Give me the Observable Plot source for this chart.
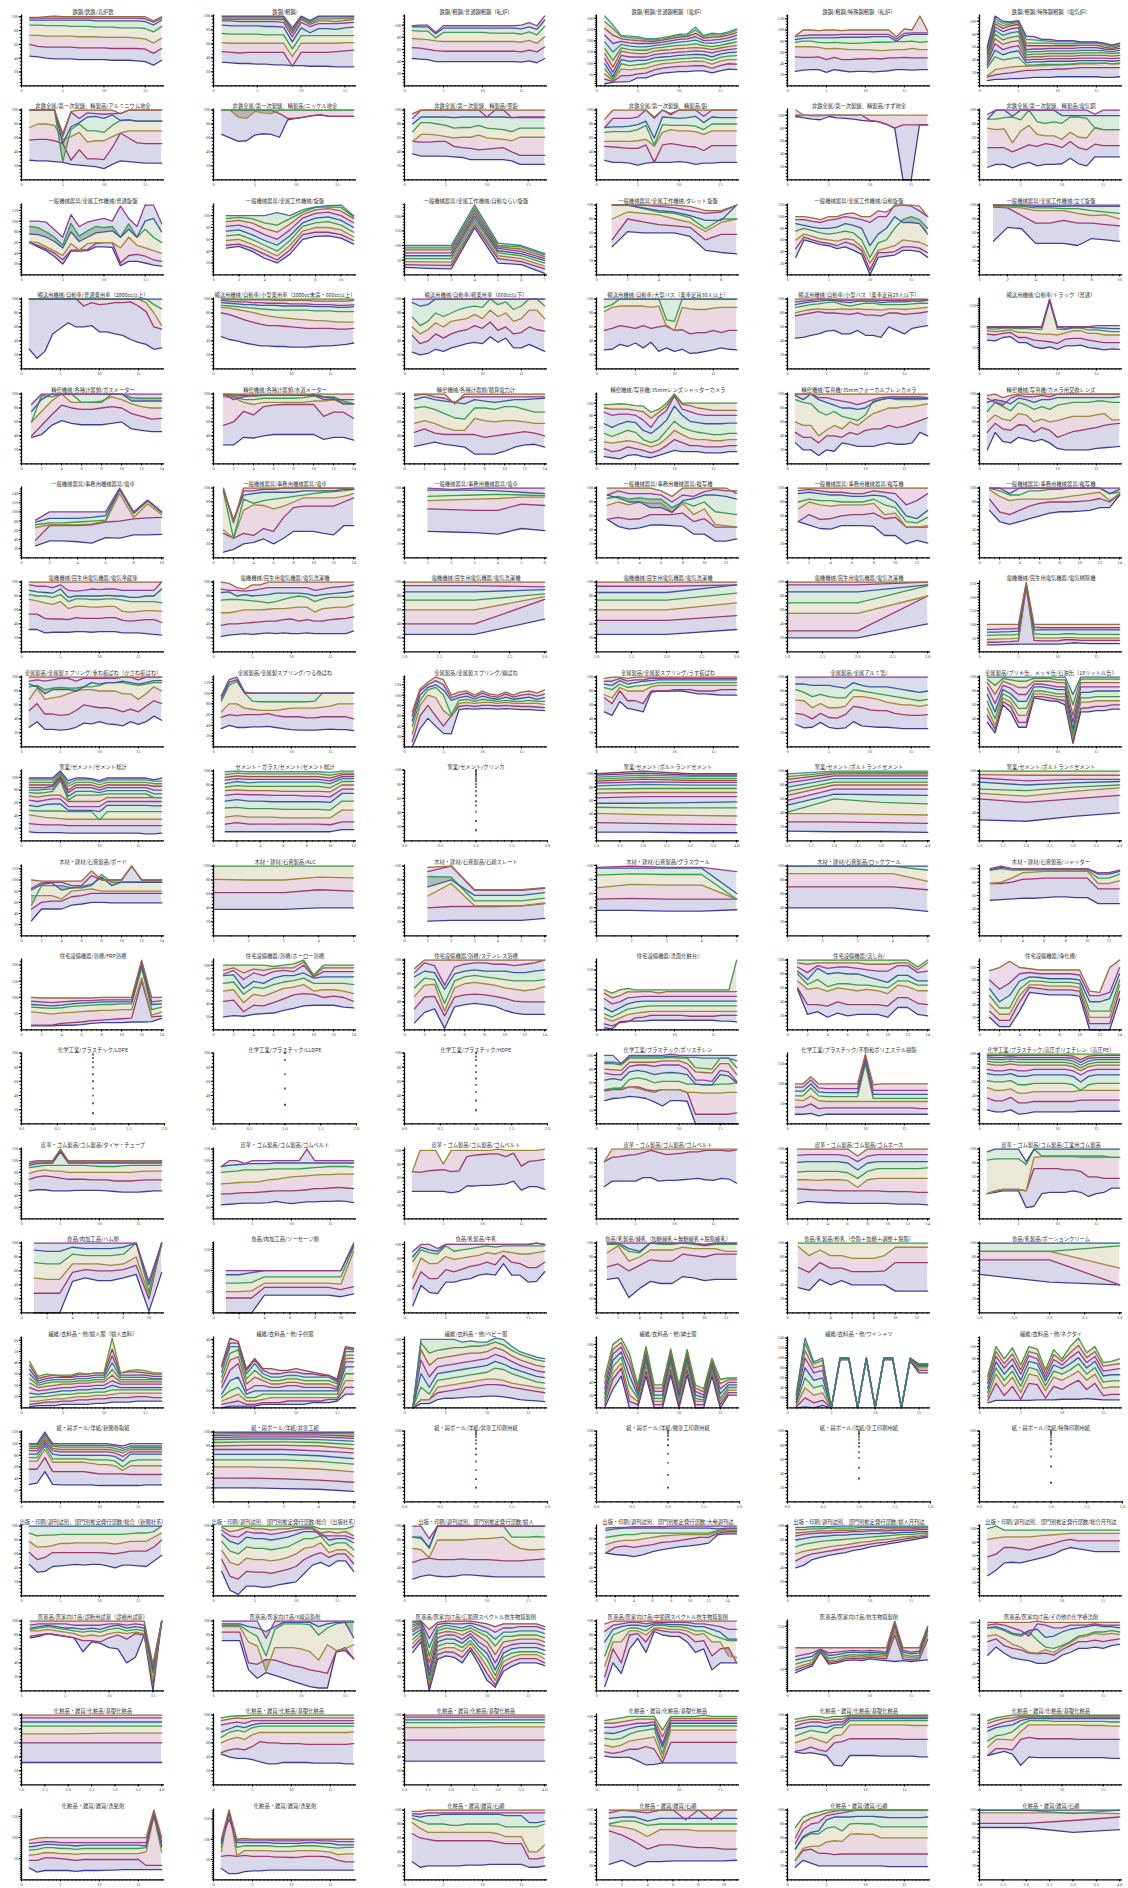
<!DOCTYPE html>
<html><head><meta charset="utf-8">
<script src="https://cdn.jsdelivr.net/npm/d3@7"></script>
<script src="https://cdn.jsdelivr.net/npm/@observablehq/plot@0.6"></script>
<style>
body{margin:0;background:#fff;width:1128px;height:1888px;position:relative;overflow:hidden}
.cell{position:absolute;width:170px;height:95px}
.cell svg{overflow:visible;max-width:none!important}
</style></head><body>
<script>
const titles = [
"鉄鋼/銑鉄/高炉銑","鉄鋼/粗鋼/","鉄鋼/粗鋼/普通鋼粗鋼（転炉）","鉄鋼/粗鋼/普通鋼粗鋼（電炉）","鉄鋼/粗鋼/特殊鋼粗鋼（転炉）","鉄鋼/粗鋼/特殊鋼粗鋼（電気炉）",
"非鉄金属/第一次製錬、精製品/アルミニウム地金","非鉄金属/第一次製錬、精製品/ニッケル地金","非鉄金属/第一次製錬、精製品/亜鉛","非鉄金属/第一次製錬、精製品/鉛","非鉄金属/第一次製錬、精製品/すず地金","非鉄金属/第一次製錬、精製品/電気銅",
"一般機械器具/金属工作機械/普通旋盤","一般機械器具/金属工作機械/旋盤","一般機械器具/金属工作機械/自動ならい旋盤","一般機械器具/金属工作機械/タレット旋盤","一般機械器具/金属工作機械/自動旋盤","一般機械器具/金属工作機械/立て旋盤",
"輸送用機械/自動車/普通乗用車（2000cc以上）","輸送用機械/自動車/小型乗用車（2000cc未満・660cc以上）","輸送用機械/自動車/軽乗用車（660cc以下）","輸送用機械/自動車/大型バス（乗車定員30人以上）","輸送用機械/自動車/小型バス（乗車定員29人以下）","輸送用機械/自動車/トラック（普通）",
"精密機械/各種計器類/ガスメーター","精密機械/各種計器類/水道メーター","精密機械/各種計器類/積算電力計","精密機械/写真機/35mmレンズシャッターカメラ","精密機械/写真機/35mmフォーカルプレンカメラ","精密機械/写真機/カメラ用交換レンズ",
"一般機械器具/事務用機械器具/電卓","一般機械器具/事務用機械器具/電卓","一般機械器具/事務用機械器具/電卓","一般機械器具/事務用機械器具/複写機","一般機械器具/事務用機械器具/複写機","一般機械器具/事務用機械器具/複写機",
"電機機械/民生用電気機器/電気冷蔵庫","電機機械/民生用電気機器/電気洗濯機","電機機械/民生用電気機器/電気洗濯機","電機機械/民生用電気機器/電気洗濯機","電機機械/民生用電気機器/電気洗濯機","電機機械/民生用電気機器/電気掃除機",
"金属製品/金属製スプリング/重ね板ばね（かさね板ばね）","金属製品/金属製スプリング/つる巻ばね","金属製品/金属製スプリング/線ばね","金属製品/金属製スプリング/うす板ばね","金属製品/金属アルミ箔/","金属製品/ブリキ缶、メッキ缶/石油缶（18リットル缶）",
"窯業/セメント/セメント総計","セメント・ガラス/セメント/セメント総計","窯業/セメント/クリンカ","窯業/セメント/ポルトランドセメント","窯業/セメント/ポルトランドセメント","窯業/セメント/ポルトランドセメント",
"木材・建材/石膏製品/ボード","木材・建材/石膏製品/ALC","木材・建材/石膏製品/石綿スレート","木材・建材/石膏製品/グラスウール","木材・建材/石膏製品/ロックウール","木材・建材/石膏製品/シャッター",
"住宅設備機器/浴槽/FRP浴槽","住宅設備機器/浴槽/ホーロー浴槽","住宅設備機器/浴槽/ステンレス浴槽","住宅設備機器/洗面化粧台/","住宅設備機器/流し台/","住宅設備機器/浄化槽/",
"化学工業/プラスチック/LDPE","化学工業/プラスチック/LLDPE","化学工業/プラスチック/HDPE","化学工業/プラスチック/ポリスチレン","化学工業/プラスチック/不飽和ポリエステル樹脂","化学工業/プラスチック/高圧ポリエチレン（高圧PE）",
"皮革・ゴム製品/ゴム製品/タイヤ・チューブ","皮革・ゴム製品/ゴム製品/ゴムベルト","皮革・ゴム製品/ゴム製品/ゴムベルト","皮革・ゴム製品/ゴム製品/ゴムベルト","皮革・ゴム製品/ゴム製品/ゴムホース","皮革・ゴム製品/ゴム製品/工業用ゴム製品",
"食品/肉加工品/ハム類","食品/肉加工品/ソーセージ類","食品/乳製品/牛乳","食品/乳製品/練乳（加糖練乳＋無糖練乳＋脱脂練乳）","食品/乳製品/粉乳（全脂＋加糖＋調整＋脱脂）","食品/乳製品/ポーションクリーム",
"繊維/衣料品・他/婦人服（婦人衣料）","繊維/衣料品・他/子供服","繊維/衣料品・他/ベビー服","繊維/衣料品・他/紳士服","繊維/衣料品・他/ワイシャツ","繊維/衣料品・他/ネクタイ",
"紙・段ボール/洋紙/新聞巻取紙","紙・段ボール/洋紙/非塗工紙","紙・段ボール/洋紙/非塗工印刷用紙","紙・段ボール/洋紙/微塗工印刷用紙","紙・段ボール/洋紙/塗工印刷用紙","紙・段ボール/洋紙/特殊印刷用紙",
"出版・印刷/週刊誌別、部門別推定発行部数/総合（新聞社系）","出版・印刷/週刊誌別、部門別推定発行部数/総合（出版社系）","出版・印刷/週刊誌別、部門別推定発行部数/婦人","出版・印刷/週刊誌別、部門別推定発行部数/大衆週刊誌","出版・印刷/週刊誌別、部門別推定発行部数/婦人月刊誌","出版・印刷/週刊誌別、部門別推定発行部数/総合月刊誌",
"医薬品/医家向け品/診断用試薬（診療用試薬）","医薬品/医家向け品/X線造影剤","医薬品/医家向け品/広範囲スペクトル抗生物質製剤","医薬品/医家向け品/中範囲スペクトル抗生物質製剤","医薬品/医家向け品/抗生物質製剤","医薬品/医家向け品/その他の化学療法剤",
"化粧品・雑貨/化粧品/基礎化粧品","化粧品・雑貨/化粧品/基礎化粧品","化粧品・雑貨/化粧品/基礎化粧品","化粧品・雑貨/化粧品/基礎化粧品","化粧品・雑貨/化粧品/基礎化粧品","化粧品・雑貨/化粧品/基礎化粧品",
"化粧品・雑貨/雑貨/洗髪剤","化粧品・雑貨/雑貨/洗髪剤","化粧品・雑貨/雑貨/石鹸","化粧品・雑貨/雑貨/石鹸","化粧品・雑貨/雑貨/石鹸","化粧品・雑貨/雑貨/石鹸"
];

const r01 = [
[[43,42,40,39,39,39,38,38,38,38,37,37,37,36,35,30,37],[60,57,56,56,56,56,55,55,55,55,54,54,54,54,53,47,54],[73,73,72,72,72,72,71,71,71,70,70,70,70,69,68,62,69],[88,88,87,87,87,86,86,86,85,85,85,84,84,84,83,78,86],[95,95,95,95,95,95,95,95,94,94,94,94,94,94,93,88,95],[98,98,98,98,98,98,98,98,98,98,98,98,98,98,97,92,98],[99,99,100,101,100,100,100,100,100,100,100,100,100,100,100,94,100]],
[[34,33,32,32,31,31,30,30,29,29,28,28,28,27,27,27],[49,48,47,48,48,48,48,48,28,48,48,48,48,49,50,51],[62,61,61,61,61,61,61,61,42,61,61,61,61,61,62,62],[75,74,74,74,74,73,73,73,53,72,72,72,72,72,72,72],[87,86,86,86,86,85,85,84,63,83,76,82,82,81,83,84],[93,93,92,92,92,92,92,91,70,91,85,89,89,89,90,91],[95,95,95,95,95,95,95,95,75,95,88,93,93,92,94,95],[97,97,97,97,97,97,97,97,78,97,90,96,96,96,97,97],[99,99,99,99,99,99,99,99,80,99,92,99,99,99,99,99],[100,100,100,100,100,100,100,100,83,100,94,100,100,100,100,100]],
[[45,44,43,40,40,40,40,40,40,40,40,40,40,40,39,41,38,45],[63,62,60,58,57,57,57,57,57,57,57,57,57,57,56,59,56,64],[78,77,76,74,73,73,73,73,73,73,73,73,73,73,72,75,70,81],[91,90,90,79,88,88,88,88,88,88,87,87,87,87,85,89,84,98],[97,97,97,86,95,95,95,95,95,95,95,95,95,95,94,97,93,108],[99,100,100,88,99,99,99,99,99,99,99,99,99,99,100,104,99,115]],
[[8,16,17,19,35,35,49,56,60,63,63,66,66,57,66,74,72],[30,19,45,45,53,56,71,79,83,86,87,90,89,78,90,98,96],[53,23,75,71,75,79,90,98,101,105,107,110,108,96,110,116,116],[75,30,98,90,94,98,109,113,116,120,122,125,123,113,126,132,134],[98,41,116,109,113,113,124,128,131,135,137,140,138,129,141,147,150],[120,60,135,128,128,128,139,143,146,150,152,155,153,146,155,161,165],[143,83,154,146,143,143,154,158,161,165,167,170,167,161,168,174,180],[165,113,169,161,158,158,167,171,176,180,182,186,179,174,180,188,195],[195,150,184,176,173,173,179,183,189,194,197,203,191,189,194,201,210],[225,188,197,191,188,188,189,194,200,206,209,218,201,203,206,213,224],[255,225,209,204,201,199,198,203,210,216,219,233,212,216,218,225,236],[285,255,218,214,210,206,204,209,216,224,225,248,219,227,225,234,246],[310,270,224,221,218,210,209,214,221,229,231,260,224,234,231,240,253]],
[[26,28,29,29,24,29,27,25,26,26,25,26,27,29,29,28,29,29],[52,51,51,52,47,51,47,47,48,48,49,48,50,50,51,50,50,50],[70,70,70,69,66,67,66,65,65,65,64,63,64,65,65,67,65,65],[78,80,80,78,77,78,77,76,76,77,78,78,78,79,79,80,78,79],[83,85,86,86,86,86,87,87,87,87,88,88,88,80,90,92,92,92],[89,90,91,91,91,91,92,92,92,92,92,92,92,84,94,95,95,95],[89,100,100,99,100,100,99,100,100,100,100,100,100,88,102,100,125,98]],
[[8,10,10,11,11,12,13,13,13,14,14,14,14,14,14,13,13,14],[14,17,19,20,22,24,24,25,25,26,26,27,28,28,28,28,28,28],[15,25,27,29,30,30,31,31,32,32,33,33,34,34,34,35,34,34],[28,45,40,42,44,32,32,33,33,33,33,34,35,35,35,35,34,35],[32,55,48,52,54,36,37,37,38,38,38,38,39,39,39,39,38,39],[36,65,56,60,62,40,41,41,42,42,42,42,43,43,43,43,42,43],[40,73,64,68,70,44,45,45,46,46,46,46,47,47,47,47,46,47],[44,80,71,75,77,48,49,49,50,50,50,50,51,51,51,51,50,51],[48,86,78,82,84,52,53,53,54,54,54,54,55,55,55,54,53,55],[51,91,84,88,90,56,57,57,58,58,58,58,59,59,59,57,56,58],[54,96,89,93,95,62,62,62,62,62,62,62,63,63,63,60,58,61],[56,100,93,96,98,66,66,66,66,65,65,65,66,66,66,63,60,63],[58,104,97,98,100,72,71,70,69,68,68,68,67,67,67,65,62,65],[60,108,100,99,101,77,76,72,72,70,70,70,68,68,68,66,63,66]]
];
const r02 = [
[[28,27,27,26,25,22,21,20,19,16,22,27,26,25,24,24,24],[57,58,58,56,52,28,43,30,30,29,46,67,60,53,52,52,52],[75,80,80,78,58,62,68,54,56,56,62,67,70,70,70,70,70],[100,100,100,100,26,72,80,70,70,68,78,85,86,84,84,84,84],[100,100,100,100,52,76,82,90,91,88,93,85,86,84,84,84,84],[100,100,100,100,62,97,88,96,95,94,95,95,100,100,100,100,100],[100,100,100,100,66,98,100,100,100,100,100,95,100,100,100,100,100]],
[[65,60,55,56,64,66,65,61,86,88,90,92,93,91,91,91,91],[100,100,100,100,100,100,100,95,88,88,90,92,93,91,91,91,91],[100,100,90,88,98,96,95,100,100,100,100,100,100,100,100,100,100],[100,100,100,100,100,100,100,100,100,100,100,100,100,100,100,100,100]],
[[37,34,34,34,34,33,32,29,29,29,29,29,27,22,22,22,22],[55,54,54,55,55,48,46,45,43,44,45,46,40,35,35,35,35],[55,65,65,64,62,60,61,61,64,60,59,58,56,61,61,61,61],[69,82,82,80,78,74,75,75,78,74,73,72,69,74,74,74,74],[80,90,90,90,90,89,90,90,90,90,90,90,89,89,89,89,89],[88,100,100,100,100,100,100,100,100,90,100,100,89,90,90,90,90],[95,100,100,100,100,100,100,100,100,100,100,100,100,100,100,100,100]],
[[28,25,25,24,21,24,25,25,25,26,25,22,24,24,25,25,25],[48,47,46,45,45,50,25,50,52,50,48,47,42,49,49,49,49],[55,55,55,55,56,58,48,68,72,70,70,69,65,70,70,70,70],[68,69,69,69,72,78,50,79,78,78,78,77,72,80,80,80,80],[75,76,76,77,79,84,60,90,89,88,89,91,82,90,89,89,89],[75,88,88,88,90,100,88,100,95,100,100,100,91,100,100,100,100],[87,100,100,100,100,100,90,100,93,100,100,100,100,100,100,100,100]],
[[98,96,94,93,98,96,95,94,92,91,90,86,80,0,0,85,85],[100,100,100,100,100,100,100,100,100,92,90,86,80,85,85,85,85],[108,100,99,99,100,100,100,100,100,100,100,100,100,100,100,100,100]],
[[18,22,22,17,22,25,20,22,22,23,31,23,20,33,33,33,33],[46,46,46,40,45,50,48,52,50,46,55,46,43,51,49,49,49],[74,72,73,53,70,78,65,63,63,58,68,61,60,75,72,72,72],[87,87,89,90,86,100,83,81,83,81,90,90,88,74,72,72,72],[87,100,100,91,100,100,100,100,100,92,92,92,92,92,92,92,92],[94,100,100,100,100,100,100,100,100,100,100,100,100,94,100,100,100]]
];
const r03 = [
[[60,52,45,34,20,44,44,45,52,52,51,17,25,25,22,18,16],[60,55,48,40,28,46,46,47,58,60,60,22,36,38,35,28,25],[62,60,52,44,36,58,46,58,60,60,60,50,70,55,50,45,40],[90,88,80,70,55,96,72,82,90,88,90,70,95,70,85,70,60],[76,75,70,62,50,80,62,70,78,80,82,70,85,70,100,105,80],[100,100,98,84,70,112,90,98,102,105,100,128,105,90,130,130,95]],
[[45,48,40,28,20,35,60,65,66,62,52],[50,52,45,35,25,42,68,72,72,68,58],[58,60,52,42,32,50,74,80,80,76,64],[66,68,60,50,40,58,82,88,90,84,72],[74,76,68,58,50,66,88,96,98,92,80],[82,84,78,68,60,76,96,104,106,100,88],[90,92,88,78,72,86,102,110,112,108,95],[95,97,95,88,84,95,106,114,115,114,98],[100,100,100,100,105,100,110,115,117,118,100]],
[[25,22,20,160,40,35,5],[35,33,32,170,55,45,20],[45,44,43,180,65,55,30],[55,55,55,190,75,65,40],[65,65,65,200,82,72,48],[75,75,75,210,90,80,55],[85,85,85,220,95,88,62],[92,92,92,228,100,95,68],[100,100,100,238,108,100,72]],
[[40,62,60,60,60,55,35,32,30],[50,80,76,72,70,68,50,58,58],[80,90,88,86,80,75,62,75,80],[100,100,95,90,88,82,66,80,80],[100,100,96,92,90,85,78,78,100],[100,100,100,98,96,92,88,90,100],[100,100,100,100,100,98,92,92,100]],
[[30,60,56,52,50,45,48,42,35,0,30,32,34,42,42,40,30],[45,65,60,56,54,50,56,52,42,8,38,38,40,48,48,46,38],[60,70,66,62,60,58,62,60,48,20,42,46,50,60,58,56,50],[75,80,76,72,70,72,75,72,60,30,55,60,80,95,100,95,80],[88,85,82,80,80,82,88,85,80,50,70,80,100,90,90,88,70],[95,95,92,90,94,96,100,98,95,90,100,100,120,120,118,110,100],[100,100,98,95,100,100,105,106,100,100,110,108,118,120,120,118,100]],
[[48,68,66,45,45,45,42,52,50,48],[97,96,85,74,74,78,74,74,72,70],[98,97,96,92,92,92,88,85,86,80],[100,99,98,96,96,95,95,92,90,88],[100,100,100,98,98,98,99,98,98,98],[100,100,100,100,100,100,100,100,100,100]]
];
const r04 = [
[[28,15,25,50,58,66,60,60,62,53,53,50,48,42,38,35,28,30],[100,100,100,100,100,100,100,90,95,92,93,95,95,96,90,82,60,57],[100,100,100,100,100,100,100,100,100,100,100,100,100,100,100,95,80,62],[100,100,100,100,100,100,100,100,100,100,100,100,100,100,100,100,92,86],[100,100,100,100,100,100,100,100,100,100,100,100,100,100,100,100,100,100]],
[[46,42,40,37,35,33,33,32,32,31,31,31,32,33,33,34,35,37],[80,78,74,70,67,64,62,62,61,60,59,58,58,58,58,57,57,58],[88,87,85,83,81,78,76,74,73,72,71,70,69,69,68,67,67,67],[91,90,89,88,87,86,85,84,84,84,84,84,83,83,83,82,82,82],[95,94,93,92,92,91,91,91,90,90,90,90,89,89,89,88,88,89],[98,97,96,96,95,95,94,94,94,93,93,93,92,92,92,91,91,92],[100,100,99,99,99,99,99,98,98,98,98,98,97,97,97,97,97,98],[100,100,100,100,100,100,100,100,100,100,100,100,100,100,100,100,100,100]],
[[24,20,22,28,25,30,33,36,38,36,46,38,44,30,30,35,30,25],[48,36,40,50,44,50,54,56,62,58,67,55,60,50,52,60,56,54],[60,50,56,66,60,68,70,72,78,72,84,75,80,68,72,84,84,72],[74,62,68,80,75,80,85,88,90,88,100,92,96,85,90,100,100,90],[95,90,92,100,100,100,100,100,100,100,100,100,100,100,100,100,100,100],[100,100,100,100,100,100,100,100,100,100,100,100,100,100,100,100,100,100]],
[[27,28,35,32,37,30,38,25,30,25,28,22,23,25,27,30,28,27],[55,58,62,60,58,62,58,60,62,55,56,50,52,52,55,52,55,55],[82,88,90,90,90,90,88,90,60,55,88,86,85,85,87,88,88,88],[88,92,100,100,100,100,100,100,70,68,100,100,100,100,100,100,100,100],[100,100,100,100,100,100,100,100,100,100,100,100,100,100,100,100,100,100]],
[[44,45,48,50,54,55,50,50,55,48,48,45,60,55,50,58,60,62],[76,78,80,82,80,80,79,78,80,77,77,76,80,80,78,79,80,82],[80,83,85,86,85,85,86,85,86,85,85,84,86,86,85,86,87,88],[88,90,92,93,95,96,92,90,92,94,94,92,92,92,92,93,94,94],[92,94,96,97,98,98,96,95,97,97,97,95,96,96,96,97,97,98],[96,97,98,100,100,99,98,98,99,99,99,98,98,98,98,99,99,99],[100,100,100,100,100,100,100,100,100,100,100,100,100,100,100,100,100,100]],
[[68,66,74,76,62,62,52,48,52,46,54,54,56,50,48,45,47,46],[82,80,84,86,74,74,68,66,64,60,70,72,72,68,65,62,62,62],[90,88,90,92,86,86,84,82,82,80,85,90,90,84,84,80,80,80],[95,94,96,96,95,95,94,93,160,94,93,96,96,92,92,90,88,88],[98,98,98,98,98,98,98,98,162,98,96,98,98,98,97,96,95,95],[100,100,100,100,100,100,100,100,165,100,100,100,100,100,102,102,102,102]]
];
const r05 = [
[[38,42,55,62,58,56,56,56,58,60,50,48,46,46],[40,55,70,84,80,78,78,80,82,80,72,68,64,65],[60,75,90,100,88,88,88,90,96,92,86,82,80,80],[60,98,96,100,100,88,88,88,100,100,95,94,94,94],[75,92,100,100,100,100,100,100,100,100,90,90,90,90],[85,100,100,100,100,100,100,100,100,100,100,100,100,100]],
[[27,27,38,37,40,42,42,42,42,42,35,38,38,34],[55,60,75,70,82,84,85,85,85,85,68,74,74,65],[96,95,88,85,88,88,88,88,88,90,90,92,86,86],[98,97,92,92,94,94,94,94,95,97,96,96,90,86],[100,99,98,97,98,98,98,98,98,100,96,94,86,86],[100,92,96,98,98,98,98,98,98,98,92,92,92,92],[100,100,100,100,100,100,100,100,100,100,100,100,100,100]],
[[25,28,31,28,26,24,14,14,14,18,24,27,28,24],[45,50,44,42,42,42,42,38,40,42,44,46,44,40],[58,62,58,52,48,48,65,62,60,62,62,60,58,58],[80,82,78,72,66,64,80,80,78,82,82,78,74,74],[92,96,92,90,88,86,92,90,88,90,92,92,93,94],[98,100,96,94,88,96,96,96,96,96,96,96,96,96],[100,100,100,100,86,100,100,100,100,100,100,100,100,100]],
[[12,10,8,14,15,12,10,14,18,22,20,20,20,18,18,18,20,20],[25,20,22,28,25,22,18,22,30,40,35,30,30,28,28,28,30,30],[36,34,36,38,36,32,28,32,42,55,48,42,40,40,38,38,40,40],[50,45,50,55,52,40,35,40,55,70,60,55,52,50,48,48,50,50],[66,60,66,70,68,55,50,60,72,95,80,70,68,66,66,66,67,67],[85,80,82,82,80,72,60,78,88,112,90,86,82,80,80,80,80,80],[92,90,90,90,88,86,75,85,95,114,98,96,92,90,88,88,88,88],[97,98,99,98,96,95,85,90,100,115,100,100,100,100,100,100,100,100]],
[[30,20,20,12,20,18,30,28,25,25,25,28,30,28,28,30,45,40],[45,38,38,30,40,40,38,45,42,48,50,50,55,52,54,58,62,66],[60,55,55,40,48,55,50,60,55,64,72,76,80,80,82,82,84,86],[92,88,86,75,70,75,68,65,62,70,90,92,94,92,92,92,92,93],[98,92,100,92,88,84,80,80,78,80,88,92,94,94,94,94,94,93],[100,100,100,95,95,92,90,88,85,88,92,95,96,96,96,96,96,95],[100,100,100,100,100,100,100,100,100,100,100,100,100,100,100,100,100,100]],
[[20,45,32,30,38,35,32,35,30,22,20,20,20,20,22,23,24,25],[45,58,50,48,56,55,45,52,48,38,42,46,48,50,52,55,57,58],[60,70,64,62,72,70,60,64,60,62,65,68,68,68,70,72,63,63],[75,88,82,76,88,84,78,82,78,84,86,88,88,88,90,90,88,88],[88,92,90,86,94,92,88,92,92,95,95,95,95,95,95,95,95,96],[94,88,84,94,98,96,96,98,96,100,100,100,100,100,100,100,100,100],[98,100,95,98,100,100,100,100,100,100,100,100,100,100,100,100,100,100]]
];
const r06 = [
[[26,37,37,35,32,44,43,50,50,51],[38,70,70,70,72,78,80,85,87,88],[66,72,72,72,74,80,140,88,118,94],[72,76,76,78,80,82,148,96,124,98],[78,86,86,86,88,92,150,98,125,100],[82,100,100,100,100,100,152,100,126,100]],
[[8,12,20,22,27,20,28,38,38,38,35,33,46,46],[35,28,35,32,42,38,58,72,74,74,74,74,80,86],[40,28,68,76,75,70,74,80,86,86,86,86,88,92],[94,28,84,78,82,84,86,88,90,92,94,95,96,98],[96,55,90,92,94,94,94,94,96,96,96,96,98,98],[98,50,96,96,98,98,100,100,100,100,100,100,100,100],[100,52,100,100,100,100,100,100,100,100,100,100,100,100]],
[[38,37,36,34,42,39],[70,69,68,68,77,75],[82,83,84,85,87,87],[88,89,90,91,90,89],[97,97,97,96,94,92],[100,98,100,100,100,100]],
[[55,45,41,43,47,47,46,45,34,34,24,24,27],[55,58,55,56,62,62,62,64,52,56,44,44,44],[75,80,76,80,78,78,65,78,62,70,48,46,44],[85,88,84,86,84,84,72,80,74,80,66,64,62],[90,86,80,80,72,72,65,82,85,90,90,88,84],[90,96,92,92,92,90,80,90,88,95,98,96,96],[100,100,100,100,100,96,88,100,100,100,100,100,92]],
[[52,47,42,41,46,46,46,45,32,32,20,25,21],[52,62,55,56,60,62,62,64,56,58,44,44,44],[70,80,76,74,76,76,76,78,62,64,44,44,46],[80,84,82,82,80,80,80,84,76,72,52,50,58],[92,94,92,90,90,88,88,90,88,80,60,56,68],[96,98,96,94,94,92,92,96,94,92,76,82,92],[100,100,100,100,100,100,100,100,100,100,100,100,100]],
[[68,52,48,52,56,60,64,66,66,67,68,72,72,90],[84,66,62,68,74,78,80,80,80,81,82,85,80,91],[98,88,82,84,84,84,84,86,88,90,92,94,82,92],[100,96,90,90,96,96,98,98,100,100,100,100,92,94],[100,100,92,100,100,100,100,100,100,100,100,100,92,98],[100,100,100,100,100,100,100,100,100,100,100,100,100,100]]
];
const r07 = [
[[32,32,27,28,28,28,29,29,28,29,29,29,27,27,27,26,25,24],[54,54,48,47,47,46,49,48,48,48,49,49,45,44,45,46,46,42],[75,73,70,68,72,62,65,65,64,64,65,65,58,57,58,59,59,58],[82,80,80,78,82,72,76,76,75,75,76,76,74,72,72,72,72,70],[88,86,85,84,90,78,80,80,80,80,81,80,80,78,78,80,80,90],[96,94,94,92,96,88,87,88,90,89,90,90,88,88,88,88,88,100],[100,100,100,100,100,100,100,100,100,100,100,100,100,100,100,100,100,100]],
[[22,24,25,26,25,26,27,26,27,26,26,27,26,26,26,26,26,30],[38,40,40,41,42,43,44,44,46,47,44,46,44,44,46,47,48,50],[56,56,58,60,60,60,61,62,62,63,64,64,57,62,63,64,64,68],[74,75,75,74,73,72,70,72,75,78,80,78,72,76,78,78,78,80],[85,86,80,82,80,81,82,84,84,84,84,83,80,82,83,84,85,87],[90,88,88,87,88,90,92,92,92,92,92,92,88,90,92,93,94,96],[100,98,92,90,96,96,100,100,100,100,100,100,100,100,100,100,100,100]],
[[25,25,47],[40,40,75],[60,60,79],[74,74,83],[86,86,89],[95,95,93],[100,100,100]],
[[25,25,32],[45,45,52],[60,60,70],[74,74,84],[85,85,96],[94,94,96],[100,100,100]],
[[20,20,40],[30,30,80],[55,55,80],[70,70,95],[86,86,96],[96,96,100],[100,100,100]],
[[25,25,26,27,28,28,28,28,28,28,30,33,32,30,30,30,30,30],[35,35,36,37,40,236,42,40,40,40,44,44,42,42,42,42,42,42],[45,46,47,48,50,240,52,50,50,50,52,52,50,50,50,50,50,50],[60,61,62,62,64,242,66,64,64,64,66,66,64,64,64,64,64,64],[72,72,73,74,76,245,80,80,80,80,80,80,80,80,80,80,80,80],[82,82,84,84,86,248,90,88,88,88,88,88,88,88,88,88,88,88],[100,100,100,100,100,255,100,100,100,100,100,100,100,100,100,100,100,100]]
];
const r08 = [
[[28,36,25,25,24,25,28,34,33,36,33,32,30,36,32,36,44,38],[52,62,47,47,45,46,52,60,58,56,56,54,50,54,50,58,66,62],[68,84,68,70,72,76,80,82,82,80,80,80,76,76,68,76,86,80],[86,88,82,84,85,84,84,86,86,88,92,92,92,90,88,90,92,92],[90,86,76,82,82,82,80,86,92,90,92,92,94,92,90,92,95,95],[94,96,94,96,98,98,94,98,98,98,98,98,100,100,96,100,100,100],[100,100,100,100,100,100,100,100,100,100,100,100,100,100,100,100,100,100]],
[[34,40,36,36,37,37,38,36,34,32,31,31,31,32,33,32,32,30],[55,60,58,60,60,60,62,58,56,56,56,54,54,56,56,56,56,52],[65,80,80,72,70,68,68,68,70,72,72,72,72,74,76,80,80,80],[85,115,122,100,85,84,84,84,84,84,84,84,85,100,100,100,100,100],[90,120,125,100,100,100,100,100,100,100,100,100,100,100,100,100,100,100],[95,125,130,102,100,100,100,100,100,100,100,100,100,100,100,100,100,100]],
[[0,35,55,40,26,25,72,74,73,74,74,73,74,73,72,72,71,70],[10,60,80,60,40,60,78,80,78,80,80,79,80,79,78,78,77,76],[25,80,100,95,70,58,84,86,84,86,86,84,86,84,84,84,84,82],[40,90,110,115,100,62,90,92,88,92,90,88,90,88,88,90,88,88],[50,100,115,120,110,90,95,98,92,98,94,92,96,92,94,96,92,95],[60,108,120,128,120,95,100,104,96,104,98,96,102,96,100,102,98,102],[68,112,125,135,130,100,106,108,100,108,102,100,106,100,106,108,104,110]],
[[50,45,65,55,53,50,78,80,80,80,80,78,76,76,75,74,74,74],[70,62,80,66,66,62,80,80,80,82,82,82,80,80,80,82,82,82],[75,70,85,80,80,80,86,88,88,88,88,88,88,88,88,88,88,88],[85,82,90,85,87,88,90,92,92,92,92,92,92,92,92,92,92,92],[90,88,95,90,92,94,95,96,96,96,96,96,96,96,96,96,96,96],[94,94,98,94,96,96,98,98,98,98,98,98,98,98,98,98,98,98],[98,100,100,98,100,100,100,100,100,100,100,100,100,100,100,100,100,100]],
[[32,27,28,35,28,26,27,36,30,29,28,28,27,26,26,26,26],[48,46,40,48,42,41,46,58,56,53,52,52,48,46,45,45,46],[67,66,56,62,56,56,58,72,72,70,68,64,62,60,60,58,60],[82,78,72,75,72,70,70,82,80,78,76,74,72,70,68,66,68],[90,90,88,88,88,86,84,92,88,86,86,86,84,82,80,78,80],[100,100,100,100,100,100,100,100,100,100,100,100,100,100,100,100,100]],
[[35,20,60,50,28,28,70,68,66,65,60,5,50,50,52,52,54,54],[45,25,65,58,35,35,72,72,70,68,66,8,55,56,58,58,60,60],[55,30,70,64,45,45,76,76,74,72,72,12,64,64,66,66,66,66],[65,40,76,70,55,55,80,80,78,76,76,18,70,70,72,72,72,72],[75,50,82,76,65,65,86,86,84,82,82,25,78,78,80,80,80,80],[85,62,88,84,75,75,90,90,88,86,86,35,86,86,86,86,86,86],[92,75,94,90,85,85,94,94,94,92,92,45,92,92,92,92,92,92],[97,88,98,96,94,94,98,98,98,96,96,60,97,97,97,97,97,97],[100,100,100,100,100,100,100,100,100,100,100,75,100,100,100,100,100,100]]
];
const r09 = [
[[14,13,13,13,13,12,12,12,12,12,12,12,12,12,12,11,11,12],[27,26,25,25,25,24,24,24,24,24,24,24,24,24,24,24,24,24],[41,39,37,36,35,34,34,34,34,34,34,34,34,34,34,34,34,34],[48,47,47,47,47,46,46,46,46,33,46,46,46,46,46,46,46,46],[56,54,57,58,58,48,48,48,48,46,56,56,56,56,56,56,55,55],[64,62,64,66,66,54,54,54,54,54,62,62,62,62,62,62,62,62],[71,69,71,72,72,62,62,62,62,62,68,68,68,68,68,68,68,68],[76,75,76,78,95,64,72,72,72,72,74,74,74,74,74,74,68,68],[80,80,81,82,98,70,78,78,78,76,79,79,79,79,79,79,74,74],[84,84,84,86,100,76,84,84,84,80,84,84,84,84,84,84,80,80],[88,88,88,88,103,80,88,88,88,84,88,88,88,88,88,88,86,86],[92,92,92,92,106,86,92,92,92,88,92,92,92,92,92,92,90,90],[96,96,96,96,108,90,96,96,96,92,96,96,96,96,96,96,94,94],[99,99,99,99,110,95,99,99,98,95,99,99,99,99,99,99,96,99]],
[[13,13,13,13,13,13,13,13,13,13,16,16],[24,26,24,24,24,24,24,24,24,23,27,27],[34,36,34,34,34,33,33,33,33,33,44,44],[47,48,46,46,46,45,45,45,45,44,57,57],[57,59,57,57,56,56,56,56,56,55,68,68],[65,67,66,66,65,65,65,64,64,63,74,74],[72,73,72,72,72,71,71,71,71,70,80,80],[77,79,78,78,78,78,78,78,78,76,85,85],[82,85,83,84,84,84,84,84,84,82,89,89],[87,89,88,88,88,88,88,88,88,86,92,92],[91,93,92,92,92,92,92,92,92,90,95,95],[95,97,96,96,96,96,96,96,96,94,97,97],[99,100,99,99,99,99,99,99,99,98,100,100]],
[[15],[28],[41],[50],[56],[64],[70],[76],[80],[84],[87],[90],[92],[94],[96],[97],[98],[99],[100]],
[[13,13,12,12],[27,26,25,24],[41,39,38,37],[50,49,49,49],[56,56,57,58],[64,66,66,66],[71,72,72,72],[77,78,78,78],[82,84,83,83],[86,88,87,87],[89,92,90,90],[92,95,93,93],[95,98,96,96],[98,101,98,98],[100,104,100,100]],
[[14,13,13,12],[27,27,26,25],[39,39,38,37],[41,60,55,53],[51,67,66,65],[58,74,74,74],[65,80,80,80],[71,84,84,84],[77,89,89,89],[83,93,93,93],[88,96,96,96],[92,98,98,98],[96,100,100,100]],
[[30,28,35,40],[60,55,60,65],[68,64,71,76],[74,72,77,80],[84,80,83,85],[90,86,88,88],[95,94,94,94],[100,100,100,100]]
];
const r10 = [
[[27,48,48,48,55,57,60,60,59,59,59,59,59,59],[48,60,62,62,70,72,76,76,76,76,76,76,76,76],[72,72,72,66,80,82,84,80,80,80,80,80,80,80],[55,90,90,90,86,86,90,110,96,96,96,96,96,96],[82,92,95,82,86,88,92,105,90,96,96,96,96,96],[85,95,96,96,90,90,108,100,100,100,125,100,100,100],[100,98,98,98,98,98,116,100,100,100,125,100,100,100]],
[[38,38,38,40,40],[62,62,62,66,64],[81,80,80,84,83],[100,100,100,100,100]],
[[21,22,22,22,22,25],[40,42,42,42,43,46],[57,75,43,43,43,47],[85,84,50,50,50,54],[70,80,58,58,58,62],[92,100,65,65,65,68],[98,100,66,66,66,69]],
[[36,36,35,35,37],[52,53,52,52,52],[68,73,72,72,52],[86,88,87,87,52],[96,96,96,96,60],[97,99,97,97,91]],
[[40,40,40,40,35],[70,70,70,70,66],[89,89,89,89,78],[100,100,100,100,94],[100,100,100,100,100]],
[[53,54,55,56,56,57,58,58,57,57,48,48,48],[78,78,80,84,85,86,86,86,86,86,70,70,70],[78,80,86,94,95,96,96,96,96,96,78,78,82],[98,100,98,98,98,98,98,98,98,98,86,86,92],[98,102,100,100,100,100,100,100,100,100,92,92,96],[100,104,100,100,100,100,100,100,100,100,94,94,98]]
];
const r11 = [
[[12,12,12,14,14,16,20,22,22,22,24,24,25,35],[14,14,14,20,22,24,28,30,32,34,36,150,40,42],[55,52,48,52,54,56,58,60,60,62,62,160,45,55],[70,68,66,68,72,74,76,78,78,80,80,190,62,70],[78,76,74,76,80,82,84,86,86,86,86,200,78,80],[88,86,84,86,88,90,90,92,92,92,92,210,86,90],[100,98,98,98,98,98,98,100,100,100,100,215,100,100]],
[[20,22,21,24,25,26,30,33,37,38,38,38,35,34],[44,46,28,38,37,42,48,54,56,55,50,52,50,44],[60,62,42,55,52,58,64,66,70,60,62,62,60,56],[72,74,55,66,64,70,74,76,80,72,72,72,72,70],[84,85,64,75,72,80,84,84,88,80,82,82,82,82],[86,92,78,88,84,90,92,90,100,82,90,90,90,90],[92,96,88,94,92,95,96,96,105,84,96,96,96,96],[100,100,100,100,100,98,100,102,108,85,100,100,100,100]],
[[10,25,30,2,33,36,38,36,34,28,24,22,22,22],[30,47,48,20,47,50,51,50,48,45,41,40,40,40],[48,64,65,27,60,66,68,66,64,60,58,56,58,62],[60,74,72,38,70,76,78,76,74,72,70,70,70,72],[76,84,82,58,80,84,86,84,84,84,82,82,84,86],[82,96,92,64,90,94,96,96,94,94,92,94,96,100],[88,100,100,100,100,100,100,100,100,100,100,100,100,100]],
[[5,2,20,22,22,22,24,24,24,24,24,24,24,24,24,22,22,20],[15,10,18,20,30,32,36,36,36,36,36,34,34,34,34,36,36,36],[30,22,30,38,42,44,46,46,46,46,46,46,46,46,46,46,46,46],[40,32,42,52,55,58,60,60,60,60,60,60,60,60,60,60,60,60],[55,45,55,65,70,72,72,72,72,72,72,72,72,72,72,72,72,72],[78,65,70,80,82,84,84,84,84,84,84,84,84,84,84,84,84,84],[92,80,86,95,95,96,96,92,96,96,96,96,96,96,96,96,96,96],[100,92,100,104,100,100,100,100,100,100,100,100,100,100,100,100,100,175]],
[[58,22,26,18,24,20,22,22,22,18,32,32,22,20],[60,36,36,34,40,36,36,36,36,34,46,46,38,36],[70,58,60,55,60,58,56,58,56,52,64,62,56,56],[80,65,72,62,66,66,64,64,62,60,70,70,64,64],[84,72,88,80,82,80,80,76,72,68,78,78,70,70],[90,82,92,88,90,90,88,86,84,84,92,92,82,84],[96,94,96,96,96,96,96,94,94,94,96,96,86,96],[100,100,100,100,100,100,100,100,100,100,100,100,90,100]],
[[20,5,5,30,60,58,56,56,56,54,0,0,0,50],[30,15,15,45,68,66,64,64,64,62,10,10,10,62],[42,25,25,55,72,72,70,70,70,68,20,20,20,72],[55,35,35,65,78,78,76,76,76,74,30,30,30,80],[66,45,55,78,85,84,82,82,82,80,45,45,50,90],[80,65,75,90,92,90,90,90,90,88,55,55,60,100],[95,100,110,100,98,96,96,96,96,96,62,60,100,112]]
];
const r12 = [
[[15],[29],[40],[50],[60],[70],[80],[87],[93],[98]],
[[27],[50],[70],[90],[100]],
[[19],[33],[45],[55],[64],[73],[82],[90],[95],[100]],
[[34,37,38,40,39,37,32,26,34,34,33,0,0,0,0,0,0],[48,50,50,54,54,50,48,50,50,50,46,14,14,14,14,14,16],[50,51,52,54,52,48,46,50,50,50,46,46,45,45,45,46,46],[50,52,52,65,67,65,60,62,62,62,58,58,57,57,58,58,60],[64,66,64,76,78,76,72,74,75,74,72,58,57,57,72,70,60],[74,72,72,84,86,86,84,86,86,86,80,64,64,62,78,76,62],[80,79,78,90,90,90,90,92,92,92,88,76,75,74,88,88,72],[88,88,86,96,96,96,96,96,97,96,96,82,81,80,96,96,82],[90,90,88,98,98,98,98,98,99,98,97,97,96,96,96,96,92],[100,100,88,100,100,100,100,100,102,100,100,100,100,100,100,100,100]],
[[24,24,26,20,24,24,24,24,24,24,24,24,24,24,24,24,24,24],[42,42,50,38,40,40,40,40,40,40,40,40,40,40,40,40,38,38],[60,58,70,58,56,56,56,56,56,56,56,56,56,56,56,56,56,56],[70,70,90,70,68,68,68,68,68,150,64,64,64,64,64,64,64,64],[82,82,100,80,78,78,78,78,78,160,74,74,74,74,74,74,74,74],[92,92,110,90,88,88,88,88,88,168,84,84,84,84,84,84,84,84],[100,100,118,100,100,100,100,100,100,175,98,100,100,100,100,100,100,100]],
[[20,17,17,20,14,15,17,17,17,17,17,17,18,18,18,18,18,18],[37,33,33,38,30,30,32,32,32,32,32,32,34,34,34,34,34,34],[52,48,48,50,44,44,46,46,46,46,46,46,48,48,48,48,48,48],[62,60,60,62,56,56,58,58,58,58,58,56,48,56,58,58,58,58],[72,70,70,72,68,68,70,70,70,70,70,68,60,68,70,70,70,70],[78,76,76,78,76,76,78,78,78,78,78,76,70,76,78,78,78,78],[86,84,84,86,84,84,84,84,84,84,84,82,76,82,84,84,84,84],[90,88,88,90,88,88,88,88,88,88,88,86,80,86,88,88,88,88],[93,92,92,93,92,92,92,92,92,92,92,90,84,90,92,92,92,92],[96,95,95,96,95,95,95,95,95,95,95,94,88,94,95,95,95,95],[98,98,98,98,98,98,98,98,98,98,98,97,92,97,98,98,98,98],[100,100,100,100,100,100,100,100,100,100,100,100,100,100,100,100,100,100]]
];
const r13 = [
[[48,50,50,48,48,48,49,49,49,49,48,47,46,46,46,47,48,48],[68,72,74,72,70,68,68,68,67,67,67,65,65,65,66,67,67,67],[78,82,84,82,82,80,80,80,80,80,80,80,80,80,81,82,82,82],[88,90,92,92,92,92,92,92,91,90,90,90,91,92,92,92,92,92],[92,95,96,96,115,96,96,96,96,96,96,96,96,96,96,96,96,96],[95,98,98,98,118,98,98,98,98,98,98,98,98,98,98,98,98,98],[98,100,100,100,120,100,100,100,100,100,100,100,100,100,100,100,100,100]],
[[24,25,26,27,27,27,28,30,28,26,28,29,29,30,30,31,30,28],[43,43,44,45,45,46,47,48,48,48,49,50,52,52,53,54,53,52],[60,61,62,63,63,64,67,68,70,72,73,74,75,76,76,77,77,77],[80,81,82,84,84,84,85,86,86,86,86,87,88,89,90,90,90,89],[90,92,93,94,95,95,95,96,96,96,96,96,96,96,96,96,96,96],[90,100,100,95,100,100,100,100,100,100,100,120,100,100,100,100,100,100]],
[[40,40,40,40,40,38,40,48,48,49,49,50,51,55,42,47,47,43],[69,68,70,71,72,69,70,91,93,94,95,95,91,96,77,84,85,87],[69,100,100,100,80,100,100,100,100,100,100,102,100,100,100,100,100,102]],
[[46,54,54,54,54,59,59,54,55,55,56,57,58,56,55,58,57,51],[82,88,89,91,92,95,98,95,92,93,94,96,96,98,98,98,97,99],[82,100,100,100,100,100,100,100,100,100,100,100,100,100,100,100,100,100]],
[[22,25,24,23,23,22,22,22,22,22,21,21,21,20],[43,42,41,41,40,40,40,40,40,39,39,39,38,38],[56,56,55,56,56,55,45,56,58,58,58,58,58,58],[67,68,68,68,68,66,58,68,72,72,72,72,72,73],[81,82,82,82,82,80,70,80,82,82,82,82,82,82],[91,92,92,92,92,90,82,90,92,92,92,92,92,92],[100,100,100,100,100,100,90,100,100,100,100,100,100,100]],
[[36,38,40,40,40,16,18,36,38,38,38,40,38,32,36,38,44,44],[36,40,42,42,42,40,72,72,72,72,70,70,68,60,60,58,58,58],[36,40,42,42,42,40,88,89,89,89,89,89,88,88,88,88,88,88],[84,86,86,86,86,78,100,90,90,90,90,90,90,90,90,90,88,88],[96,100,100,100,100,82,100,100,100,100,100,100,100,100,100,100,100,100]]
];
const r14 = [
[[0,0,0,45,50,46,46,50,55,2,58],[28,28,28,58,62,60,60,62,68,20,100],[50,48,48,70,70,70,68,70,80,25,100],[72,70,70,84,82,82,82,84,100,30,100],[90,88,88,94,92,92,92,94,100,40,100],[100,100,100,100,100,100,100,100,100,45,100]],
[[0,0,0,42,42,42,42,42,42,38,45],[35,35,35,60,60,60,60,60,60,55,62],[50,50,52,70,70,70,70,70,70,68,145],[70,70,72,85,85,85,85,85,85,85,155],[90,90,95,100,100,100,100,100,100,100,160],[100,100,100,100,100,100,100,100,100,100,165]],
[[10,40,30,28,45,45,48,50,55,57,55,72,55,55,45,46,60],[35,60,50,50,63,60,64,68,70,74,70,84,74,72,66,66,74],[52,80,72,72,82,78,80,82,84,88,86,90,88,86,86,88,90],[75,92,88,86,98,90,92,94,96,98,96,98,98,98,98,98,98],[82,96,92,90,100,100,100,100,100,100,100,100,100,100,100,102,100],[90,100,100,94,100,100,100,100,100,100,100,100,100,100,100,102,100]],
[[48,50,22,35,45,42,42,52,50,46,48,48,48],[66,70,60,68,76,74,74,84,82,80,84,84,84],[86,96,74,80,90,90,90,94,92,92,92,88,88],[98,98,88,86,100,98,98,100,98,96,98,98,98],[100,100,92,88,100,100,100,100,100,98,100,100,100],[100,100,100,100,100,100,100,100,100,97,100,100,100]],
[[36,32,48,40,46,40,40,40,40,31,31,31,31],[65,58,72,64,64,59,59,59,60,72,72,72,72],[95,82,90,82,82,78,78,78,82,94,94,94,94],[100,100,100,100,100,100,100,100,100,100,100,100,100]],
[[55,44,40],[76,76,40],[88,88,64],[88,88,96],[100,100,100]]
];
const r15 = [
[[1,2,2,2,3,3,3,3,4,4,5,5,5,6,6,6,6],[3,4,5,5,6,6,7,7,8,8,9,9,9,10,10,9,9],[6,6,7,8,8,9,10,10,11,11,12,13,13,13,13,13,13],[9,10,10,11,12,12,13,13,14,14,16,16,16,16,16,16,16],[13,12,13,14,15,15,16,16,17,17,20,18,18,18,18,18,18],[18,15,16,17,18,18,19,19,20,20,24,21,21,21,21,21,21],[22,18,19,20,21,21,22,22,23,23,29,23,23,23,23,23,23],[26,20,22,23,23,23,24,24,25,25,34,25,25,25,25,25,25],[30,22,24,25,25,25,26,26,27,27,40,27,27,27,27,26,26],[34,24,26,27,27,27,28,28,29,29,46,29,29,29,29,28,28],[38,26,28,29,28,28,30,30,31,31,52,31,32,32,31,30,30],[41,28,30,29,29,29,31,30,31,31,62,31,33,34,33,31,31]],
[[0,1,1,1,1,2,2,2,2,2,2,3,3,3,4,8,8],[2,3,4,2,2,3,3,3,4,4,4,4,4,5,5,12,12],[4,6,8,4,4,5,6,6,6,6,6,6,6,6,6,16,16],[6,10,12,6,6,8,8,8,8,8,8,8,8,8,8,20,20],[8,16,18,8,10,10,10,10,10,10,10,10,10,10,10,24,24],[12,22,26,10,13,13,12,12,13,13,12,12,12,12,11,27,27],[15,28,30,14,18,16,14,14,15,15,14,14,14,14,12,29,29],[18,32,34,17,22,18,16,16,17,17,16,16,16,16,14,31,31],[21,36,36,20,26,20,18,18,19,19,18,18,18,18,15,33,33],[24,38,38,22,28,22,20,20,21,21,20,20,19,19,16,35,34],[25,41,39,23,29,23,23,22,22,23,22,21,20,19,17,36,35]],
[[0,6,6,12,14,14,15,16,16,17,17,16,14,12,11,10,9],[0,12,12,22,24,26,28,30,32,34,34,33,30,28,26,24,22],[0,12,12,30,32,34,36,38,40,42,42,40,36,34,32,30,28],[0,30,20,40,42,44,46,48,50,52,58,56,50,46,42,38,36],[0,50,30,50,52,54,56,58,60,62,68,64,58,54,50,46,44],[0,70,45,60,62,64,66,68,70,72,78,74,68,62,58,54,52],[0,85,62,72,74,76,78,80,80,82,88,84,76,70,66,62,60],[0,95,80,84,86,88,88,90,90,92,96,92,84,78,74,70,68],[0,100,100,100,100,100,96,98,96,96,102,100,90,82,78,74,72]],
[[0,30,50,0,0,50,0,0,52,0,52,0,0,50,0,20,20],[5,45,62,10,5,58,5,5,60,5,60,5,5,56,5,24,24],[10,55,70,20,10,66,10,10,68,10,68,10,10,60,10,28,28],[15,65,80,35,15,74,15,15,74,15,74,15,12,64,15,32,32],[22,75,88,50,20,80,20,20,80,20,80,20,16,68,22,36,36],[30,85,96,65,26,86,26,26,85,26,85,26,20,72,30,40,40],[38,92,103,75,31,92,31,31,89,31,89,31,25,75,38,44,44],[48,100,110,85,36,97,36,36,93,36,92,36,30,78,45,47,47]],
[[0,2,0,5,0,96,96,0,96,0,96,96,0,94,70,70],[2,20,10,15,0,97,97,0,97,0,97,97,0,95,75,75],[5,40,25,30,0,98,98,0,98,0,98,98,0,96,80,80],[8,60,40,45,0,98,98,0,98,0,98,98,0,97,83,83],[12,80,55,60,0,99,99,0,99,0,99,99,0,98,85,85],[16,100,70,75,0,99,99,0,99,0,99,99,0,98,86,86],[20,115,80,85,0,100,100,0,100,0,100,100,0,99,87,87],[24,130,88,95,0,100,100,0,100,0,100,100,0,100,88,88],[28,140,92,100,0,100,100,0,100,0,100,100,0,100,88,88]],
[[8,12,12,12,12,12,13,13,13,14,14,14,15,14,13,13,13],[12,40,20,35,14,40,38,16,35,30,38,45,30,40,20,22,22],[18,55,35,50,25,55,52,28,50,45,52,60,45,55,32,34,34],[25,65,45,60,35,66,62,36,60,55,62,72,55,66,42,44,44],[32,75,55,70,45,76,72,44,70,64,72,82,65,76,52,54,54],[40,84,65,80,55,85,80,50,79,70,82,92,74,84,60,62,64],[46,92,72,88,62,92,88,56,87,76,90,102,82,92,68,70,72],[52,100,80,98,70,100,96,62,95,80,100,114,90,100,74,76,80]]
];
const r16 = [
[[30,32,52,30,29,29,29,29,29,28,28,28,28,28,28,29,29,29],[56,56,76,52,52,52,52,52,50,48,48,48,48,47,47,47,47,47],[70,70,90,68,68,68,68,68,66,64,64,62,54,62,62,62,62,62],[76,76,96,74,74,74,74,74,72,72,72,70,60,70,72,72,72,72],[82,82,100,82,80,80,80,80,80,80,80,78,70,82,82,82,82,82],[88,88,104,88,86,86,86,86,86,86,86,84,78,86,86,86,86,86],[92,92,108,92,90,90,90,90,90,90,90,88,84,90,90,90,90,90],[95,95,112,96,94,94,94,94,94,94,94,92,88,93,93,93,93,93],[98,98,116,98,97,97,97,97,97,97,97,96,92,96,96,96,96,96],[100,100,120,100,100,100,100,100,100,100,100,98,96,100,100,100,100,100]],
[[20,20,19,18,15],[34,34,33,31,28],[50,50,49,47,43],[60,60,60,58,54],[68,68,68,66,62],[75,75,75,73,70],[80,81,81,80,76],[85,86,86,85,82],[89,90,90,89,87],[92,93,93,93,91],[95,96,96,96,94],[97,98,98,98,97],[99,99,99,99,99],[100,100,100,100,100]],
[[20],[32],[45],[57],[67],[75],[82],[87],[92],[95],[97],[99],[100]],
[[20],[38],[55],[68],[80],[88],[93],[96],[98],[100]],
[[33],[48],[62],[70],[78],[83],[88],[92],[95],[97],[99],[100]],
[[27],[50],[64],[74],[82],[87],[91],[94],[96],[98],[100]]
];
const r17 = [
[[45,34,35,42,43,44,45,44,45,45,43,40,44,44,43,42,50,58],[62,52,55,62,62,62,62,62,62,62,61,60,62,64,64,64,70,80],[78,70,70,72,75,75,76,76,76,76,76,74,76,78,78,78,84,90],[90,86,87,87,88,88,88,88,88,88,88,88,88,89,90,90,92,100],[100,100,100,100,100,100,100,100,100,100,100,100,100,100,100,100,100,100]],
[[35,8,2,14,14,12,13,16,18,20,32,44,48,42,50,50,35],[52,28,24,35,34,34,32,35,38,42,52,58,62,55,60,60,46],[65,48,44,54,52,52,50,52,55,60,68,70,76,62,66,66,56],[78,64,60,70,68,68,66,68,70,76,82,82,86,72,76,76,66],[88,78,74,84,82,82,80,82,84,88,92,92,90,80,82,82,76],[94,86,84,92,90,90,88,90,92,94,96,96,86,86,86,86,82],[98,92,94,98,96,96,94,96,96,98,98,98,90,92,90,92,86],[100,100,100,100,100,100,100,100,100,100,100,100,96,96,96,96,100]],
[[24,28,30,28,27,28,30,30,29,28,27,27,27,27,27,27,27],[48,52,54,52,52,52,53,52,52,52,51,50,50,50,51,52,53],[68,66,55,80,80,80,80,81,82,82,83,84,74,68,66,66,67],[84,82,70,100,100,100,100,100,100,100,100,100,84,84,84,85,84],[84,84,68,100,100,100,100,100,100,100,100,100,100,100,100,100,100],[100,100,82,100,100,100,100,100,100,100,100,100,100,100,100,100,100]],
[[60,58,57,55,58,62,65,67,69,70,72,74,86,87,87],[60,68,70,68,70,72,75,76,78,80,82,82,88,90,90],[72,76,78,78,80,82,84,85,86,86,86,86,90,92,92],[82,84,86,86,88,88,88,88,88,88,88,88,92,94,94],[92,94,95,95,95,95,95,95,95,95,95,95,94,95,95],[95,96,96,97,97,97,97,98,98,98,98,98,98,98,98]],
[[40,44,52,55,58,60,62,65,67,70,72,74,76,78,80,82,84],[50,56,60,62,64,66,68,70,72,74,76,77,79,81,83,84,86],[60,64,66,68,70,72,73,75,77,78,80,81,82,84,85,86,88],[70,74,76,78,79,80,81,82,83,84,85,86,87,88,88,89,90],[80,82,84,85,86,87,87,88,88,89,89,90,90,91,91,92,92],[86,88,89,90,90,91,91,92,92,93,93,93,94,94,94,95,95],[90,91,92,93,93,94,94,94,95,95,95,96,96,96,96,97,97],[95,95,96,96,97,97,97,97,98,98,98,98,98,98,98,98,98],[98,98,99,99,99,100,100,100,100,100,100,100,100,100,100,100,100]],
[[30,38,49,50,49,52,55,58,62,68,72,70,68,66,66,66,66],[58,62,72,72,70,68,72,75,78,82,84,82,82,82,82,82,82],[84,86,88,88,88,88,89,90,91,92,93,93,93,93,93,93,93],[100,104,98,98,98,98,98,98,98,98,98,98,98,98,98,98,98]]
];
const r18 = [
[[76,78,82,80,78,76,56,70,68,62,60,40,48,80,0,100],[78,80,82,80,78,76,72,72,70,76,80,74,82,80,10,100],[86,86,88,86,84,82,78,80,78,82,84,82,84,82,15,100],[88,90,92,90,88,86,84,86,84,88,90,86,88,86,25,100],[90,92,94,92,90,90,88,90,88,92,94,90,92,90,30,100],[94,96,96,96,96,94,94,94,94,96,96,94,96,94,35,100],[100,100,100,100,100,100,100,100,100,100,100,100,100,100,38,100]],
[[72,72,72,30,18,26,22,18,14,10,6,4,4,56,58,46],[84,84,84,40,38,45,44,40,36,34,30,28,25,56,62,46],[92,92,92,70,64,28,62,62,62,60,56,44,66,58,60,66],[94,94,94,85,78,50,88,96,96,96,95,80,90,96,98,98],[96,96,96,92,90,85,92,98,98,98,98,92,96,98,98,76],[100,100,100,100,100,75,100,100,100,100,100,100,100,100,100,100]],
[[55,70,0,45,50,48,40,58,38,15,5,28,35,40,40,40,36],[62,75,5,52,56,55,48,62,45,25,8,35,42,46,46,46,40],[68,80,10,58,62,62,56,68,52,35,15,42,48,52,52,52,46],[74,84,15,64,68,68,62,72,58,45,22,48,54,56,56,56,52],[80,88,22,70,74,74,68,78,64,54,30,54,60,62,62,62,58],[85,92,30,76,80,80,74,82,70,62,40,62,66,68,68,68,64],[88,95,40,82,85,84,80,86,78,70,52,70,72,74,74,74,70],[92,97,50,86,90,88,86,90,84,78,64,78,78,80,80,80,76],[95,98,62,90,94,92,90,94,88,84,74,84,84,86,86,86,82],[98,100,75,95,97,96,96,97,94,90,84,90,90,92,92,92,88],[100,100,88,98,100,100,100,100,98,96,92,96,96,96,96,96,92]],
[[6,40,25,60,75,55,85,80,78,78,70,55,60,30,40,40,40],[20,60,40,80,82,70,88,86,84,84,80,70,72,50,60,62,40],[35,70,70,86,86,80,90,90,88,88,86,80,82,70,70,50,48],[50,80,85,90,90,86,94,94,92,92,90,86,86,80,76,72,72],[70,88,92,94,94,92,96,96,95,95,94,92,92,88,84,74,74],[85,94,96,98,98,96,98,98,98,98,98,96,96,94,92,88,88],[96,100,100,100,100,100,100,100,100,100,100,100,100,100,100,100,100]],
[[42,50,58,90,62,65,70,72,70,74,72,70,68,70,68,70,72],[48,55,62,92,66,68,74,76,74,78,76,74,130,74,72,74,120],[54,60,66,94,70,72,78,80,78,82,80,78,140,80,76,78,130],[62,68,72,95,75,78,82,84,82,86,84,82,150,84,80,82,138],[72,76,80,96,82,84,88,90,88,90,88,86,155,90,86,88,144],[80,84,88,97,88,90,92,94,92,94,92,90,158,94,90,92,148],[100,100,100,100,100,100,100,100,100,100,100,100,162,100,100,100,150]],
[[52,64,55,48,46,44,40,40,44,52,56,62,62,64,62,66,68],[72,76,66,62,60,55,54,55,52,60,66,72,72,74,72,74,76],[80,82,76,68,64,56,55,60,56,64,70,78,80,84,82,84,82],[92,92,88,82,80,86,74,64,62,66,72,80,82,86,86,88,86],[92,94,90,84,82,88,90,78,80,86,90,92,94,96,94,94,92],[96,98,96,92,88,80,98,96,92,92,96,96,96,98,96,96,96],[100,100,100,100,100,100,102,100,100,100,100,100,100,100,100,100,100]]
];
const r19 = [
[[32,32,32,32],[60,60,60,60],[73,73,74,74],[84,84,84,84],[90,90,90,90],[96,96,96,96],[100,100,100,100]],
[[44,40,38,38,36,33,30,30,32,32,32,32,31,31,31,31,30,30],[46,50,52,50,55,62,60,60,59,59,59,58,58,58,58,58,58,59],[60,65,68,65,72,75,75,75,75,75,75,75,75,75,75,75,75,76],[68,75,78,76,82,84,84,84,84,84,84,84,84,84,84,84,84,84],[76,80,84,82,86,88,88,88,88,88,88,88,88,88,88,88,88,88],[86,88,90,88,92,92,92,92,92,92,92,92,92,92,92,92,92,92],[92,94,96,95,96,96,96,96,96,96,96,96,96,96,96,96,96,96],[96,98,99,99,100,100,100,100,100,100,100,100,100,100,100,100,100,100]],
[[34,34,34,34],[64,64,64,64],[82,82,83,83],[89,89,89,89],[93,93,93,93],[97,97,97,97],[100,100,100,100]],
[[42,40,40,40,35,29,30,32,32,32,32,32,32,32,32,32,32],[48,46,48,52,52,56,52,32,62,62,62,62,62,62,62,62,62],[58,55,58,64,66,68,70,38,80,80,80,80,80,80,80,80,80],[68,66,68,74,78,80,82,45,86,86,86,86,86,86,86,86,86],[76,75,78,82,85,86,88,55,90,90,90,90,90,90,90,90,90],[84,84,86,88,90,90,92,60,94,94,94,94,94,94,94,94,94],[90,90,92,94,96,96,96,70,97,97,97,97,97,97,97,97,97],[94,96,98,100,100,100,100,80,100,100,100,100,102,100,100,100,100]],
[[47,45,46,44,42,28,27,42,42,42,42,41,41,41,41,41,40,40],[48,50,54,50,48,60,62,66,66,66,66,66,66,66,65,65,65,65],[60,64,68,64,60,70,72,86,86,86,86,86,86,86,86,85,85,85],[70,74,78,76,74,82,82,92,92,92,92,92,92,92,92,92,92,92],[80,82,84,84,82,86,86,95,95,95,95,95,95,95,95,95,95,95],[84,88,90,90,88,90,90,97,97,97,97,97,97,97,97,97,97,97],[90,92,94,94,92,94,94,99,99,99,99,99,99,99,99,99,99,99],[94,96,98,98,96,98,98,100,100,100,100,100,100,100,100,100,100,100]],
[[42,45,48,44,28,40,39,39,39,39,39,39,39,39,39,38,38],[42,52,52,50,65,68,66,66,66,66,66,65,65,65,65,65,65],[54,65,65,64,76,86,86,86,86,86,86,86,85,85,85,84,84],[63,70,72,76,86,92,92,92,91,91,91,91,91,91,91,90,90],[77,82,84,86,92,95,95,95,95,95,95,95,95,95,95,95,95],[82,86,90,92,96,97,97,97,97,97,97,97,97,97,97,97,97],[88,92,95,96,98,99,99,99,99,99,99,99,99,99,99,99,99],[92,96,98,100,100,100,100,98,100,100,100,100,100,100,100,100,100]]
];
const r20 = [
[[28,18,22,22,22,22,20,22,22,22,23,23,24,24,24,24,24,24],[46,46,52,52,50,48,46,48,48,48,48,48,48,48,48,34,34,34],[58,60,64,64,62,62,60,62,62,62,62,62,62,62,62,66,150,66],[70,72,76,76,74,74,72,74,74,74,74,74,74,74,74,76,155,78],[78,80,84,84,82,82,80,82,82,82,82,82,82,82,82,80,158,80],[86,88,90,90,88,88,88,88,88,88,88,88,88,88,88,88,160,90],[94,98,100,100,100,100,100,100,100,100,100,100,100,100,100,100,165,100]],
[[28,15,15,20,22,22,24,24,24,24,24,24,24,24,24,24,24,24],[58,60,58,60,58,58,58,56,56,55,56,58,58,58,55,48,44,44],[70,172,60,72,72,72,72,70,70,70,72,72,72,70,68,62,64,64],[80,170,80,84,84,84,84,82,82,82,84,84,84,82,80,78,80,80],[90,165,92,92,92,92,92,90,90,90,90,92,92,90,90,86,86,86],[96,150,98,98,98,98,98,96,96,96,96,98,98,96,96,94,94,94],[100,172,100,102,100,100,100,100,100,100,100,100,100,100,100,100,100,100]],
[[26,18,20,20,20,20,20,21,21,21,22,22,22,22,22,18,18,20],[66,60,58,56,56,56,56,56,56,56,56,54,52,52,52,30,30,32],[82,74,68,68,68,68,68,68,68,68,68,66,62,62,62,40,40,50],[88,84,80,80,80,78,78,80,80,80,80,80,76,76,76,76,76,80],[92,90,92,92,94,94,94,94,94,94,94,94,92,92,92,82,82,84],[95,94,96,96,96,96,96,96,96,96,96,96,96,96,96,96,96,96],[98,98,100,100,100,100,100,100,100,100,100,100,100,100,100,100,100,100]],
[[22,28,19,26,26,27,27,27,27,27,28],[70,64,55,44,50,50,48,46,46,44,44],[78,76,72,62,72,72,72,70,70,70,70],[80,84,84,78,80,80,80,80,80,80,80],[88,90,90,84,88,88,88,88,88,88,88],[96,100,98,96,100,100,86,100,86,100,100],[100,100,100,100,100,100,100,100,100,100,100]],
[[18,28,24,20,20,20,20,20,20,20,20,20,19,19,19,19,19,19],[28,42,44,38,38,36,37,37,37,37,37,37,37,37,37,37,37,37],[28,45,48,48,54,56,55,65,66,65,65,60,60,60,60,60,60,60],[44,60,66,66,74,76,70,80,81,80,80,76,76,76,76,76,76,76],[44,62,68,70,86,90,90,90,91,91,91,90,89,89,89,89,89,90],[52,72,80,82,92,94,96,98,100,100,100,100,100,100,100,100,100,100],[60,82,88,92,96,98,100,100,100,100,100,100,100,100,100,100,100,100],[75,90,95,97,100,100,100,100,100,100,100,100,100,100,100,100,100,100]],
[[75,75,68,72],[81,81,85,90],[96,96,96,95],[100,100,95,100],[100,100,100,100]]
];
const rows = [r01,r02,r03,r04,r05,r06,r07,r08,r09,r10,r11,r12,r13,r14,r15,r16,r17,r18,r19,r20];
// panels (row*6+col) whose x axis starts at 1 although they have more than 5 points
const axisFromOne = [14];

function hsv(h, s, v) {
  const i = Math.floor(h * 6), f = h * 6 - i;
  const p = v * (1 - s), q = v * (1 - f * s), t = v * (1 - (1 - f) * s);
  const m = [[v,t,p],[q,v,p],[p,v,t],[p,q,v],[t,p,v],[v,p,q]][i % 6];
  return d3.rgb(m[0] * 255, m[1] * 255, m[2] * 255).formatHex();
}
const palette = k => hsv((0.67 + 0.236068 * k) % 1, 0.6, 0.6);

const colW = 191.5, rowH = 94.4;
rows.forEach((row, r) => row.forEach((lines, c) => {
  const id = r * 6 + c;
  const n = d3.max(lines, l => l.length);
  const single = n === 1;
  const x0 = single ? 0 : (n <= 5 || axisFromOne.includes(id)) ? 1 : 0;
  const xHi = single ? 2 : n + (n - x0) * 0.02;
  const yHi = single ? 100 : d3.max(lines.flat()) * 1.015;
  const pts = lines.flatMap((l, k) => l.map((v, j) => ({x: j + 1, y: v, k})));
  const bands = [];
  for (let k = 0; k < lines.length - 1; k++)
    for (let j = 0; j < n; j++)
      if (lines[k][j] != null && lines[k + 1][j] != null)
        bands.push({x: j + 1, a: lines[k][j], b: lines[k + 1][j], k});
  const col = d => palette(d.k);
  const yMaj = d3.ticks(0, yHi, 5).filter(v => v > 0);
  const yMin = d3.ticks(0, yHi, 25);
  const xMaj = d3.ticks(x0, xHi, 5);
  const xMin = d3.ticks(x0, xHi, single ? 20 : Math.min(40, Math.round((xHi - x0) * 1.2) + 4));
  const fy = d3.tickFormat(0, yHi, 5), fx = d3.tickFormat(x0, xHi, 5);
  const marks = [];
  if (!single) {
    marks.push(Plot.areaY(bands, {x: "x", y1: "a", y2: "b", z: "k", fill: col, fillOpacity: 0.2, curve: "linear"}));
    marks.push(Plot.lineY(pts, {x: "x", y: "y", z: "k", stroke: col, strokeWidth: 1.3, curve: "linear"}));
  } else {
    marks.push(Plot.dot(pts, {x: "x", y: "y", fill: col, r: 1.1, symbol: "square"}));
  }
  marks.push(
    Plot.axisY(yMin, {tickSize: 1.2, fill: "none", label: null, stroke: "#000"}),
    Plot.axisY(yMaj, {tickSize: 2.2, tickPadding: 1, fontSize: 4.4, tickFormat: fy, fill: "#444", stroke: "#000", label: null}),
    Plot.axisX(xMin, {tickSize: 1.2, fill: "none", label: null, stroke: "#000"}),
    Plot.axisX(xMaj, {tickSize: 2.2, tickPadding: 0.6, fontSize: 4.4, tickFormat: fx, fill: "#444", stroke: "#000", label: null}),
    Plot.ruleX([x0], {stroke: "#000", strokeWidth: 1.3}),
    Plot.ruleY([0], {stroke: "#000", strokeWidth: 1.3}),
    Plot.text([titles[id]], {frameAnchor: "top", dy: -4.8, fontSize: 5.3, fill: "#333", fontFamily: "'Noto Sans CJK JP', sans-serif"})
  );
  const svg = Plot.plot({
    width: 170, height: 94,
    marginLeft: 21, marginRight: 6, marginTop: 14.5, marginBottom: 8.7,
    x: {domain: [x0, xHi], axis: null},
    y: {domain: [0, yHi], axis: null},
    color: {type: "identity"},
    style: {fontFamily: "'Liberation Serif', serif", background: "transparent", overflow: "visible"},
    marks
  });
  const div = document.createElement("div");
  div.className = "cell";
  div.style.left = (c * colW) + "px";
  div.style.top = (r * rowH) + "px";
  div.appendChild(svg);
  document.body.appendChild(div);
}));
</script>
</body></html>
